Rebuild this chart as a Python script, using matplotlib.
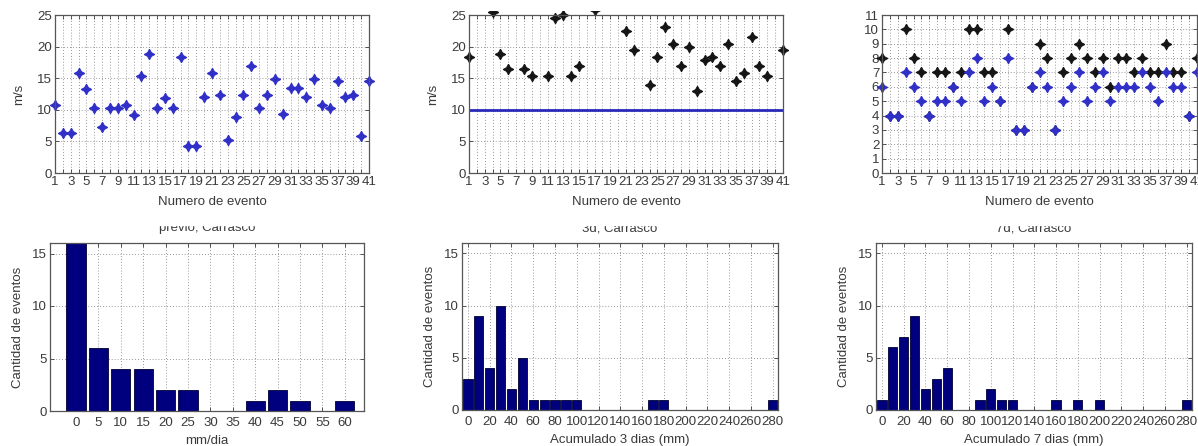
import matplotlib
matplotlib.use("Agg")
import matplotlib.pyplot as plt
from matplotlib.patches import Rectangle
from matplotlib.transforms import Bbox, TransformedBbox

plt.rcParams['font.family'] = ['Liberation Sans', 'DejaVu Sans']
plt.rcParams['font.size'] = 9.5
plt.rcParams['text.color'] = '#3a3a3a'
plt.rcParams['xtick.color'] = '#3a3a3a'
plt.rcParams['ytick.color'] = '#3a3a3a'
plt.rcParams['axes.labelcolor'] = '#3a3a3a'

# datos por evento
eventos = list(range(1, 42))
viento_prev = [10.7, 6.3, 6.3, 15.9, 13.3, 10.3, 7.3, 10.3, 10.3, 10.7, 9.2, 15.4, 18.8, 10.3,
               11.9, 10.3, 18.3, 4.3, 4.3, 12.0, 15.9, 12.4, 5.3, 8.8, 12.4, 16.9, 10.3, 12.4,
               14.9, 9.3, 13.4, 13.4, 12.0, 14.9, 10.8, 10.3, 14.5, 12.0, 12.4, 5.8, 14.5]
viento_max = [18.4, 27.0, 28.0, 25.5, 18.8, 16.4, 27.5, 16.4, 15.4, 28.5, 15.4, 24.5, 25.0, 15.4,
              16.9, 27.0, 25.8, 28.0, 27.5, 29.0, 22.5, 19.5, 27.0, 13.9, 18.4, 23.1, 20.4, 16.9,
              20.0, 13.0, 17.9, 18.4, 16.9, 20.4, 14.5, 15.9, 21.5, 16.9, 15.4, 28.0, 19.5]
umbral = 10
esc_max = [8, 4, 4, 10, 8, 7, 4, 7, 7, 6, 7, 10, 10, 7, 7, 5, 10, 3, 3, 6, 9, 8, 3, 7, 8, 9, 8,
           7, 8, 6, 8, 8, 7, 8, 7, 7, 9, 7, 7, 4, 8]
esc_media = [6, 4, 4, 7, 6, 5, 4, 5, 5, 6, 5, 7, 8, 5, 6, 5, 8, 3, 3, 6, 7, 6, 3, 5, 6, 7, 5,
             6, 7, 5, 6, 6, 6, 7, 6, 5, 7, 6, 6, 4, 7]

# histogramas de lluvia
bins_prev = [0, 5, 10, 15, 20, 25, 30, 35, 40, 45, 50, 55, 60]
cant_prev = [18, 6, 4, 4, 2, 2, 0, 0, 1, 2, 1, 0, 1]
bins_acum = list(range(0, 290, 10))
cant_3d = [3, 9, 4, 10, 2, 5, 1, 1, 1, 1, 1, 0, 0, 0, 0, 0, 0, 1, 1, 0, 0, 0, 0, 0, 0, 0, 0, 0, 1]
cant_7d = [1, 6, 7, 9, 2, 3, 4, 0, 0, 1, 2, 1, 1, 0, 0, 0, 1, 0, 1, 0, 1, 0, 0, 0, 0, 0, 0, 0, 1]

W, H = 1198, 446
fig = plt.figure(figsize=(W / 100, H / 100), dpi=100)


def ejes(l, r, t, b):
    ax = fig.add_axes([l / W, 1 - b / H, (r - l) / W, (b - t) / H])
    ax.tick_params(direction='in', top=True, right=True, length=3, width=0.6, pad=2)
    for s in ax.spines.values():
        s.set_color('#555555')
        s.set_linewidth(0.9)
    ax.grid(True, linestyle=(0, (1, 2.5)), color='#777777', linewidth=0.6)
    ax.set_axisbelow(True)
    return ax


def puntos(ax, x, y, color):
    ln, = ax.plot(x, y, linestyle='none', marker=(4, 1, 0), markersize=7.5, color=color,
                  markeredgewidth=0.8)
    # como en matlab: el marcador no se corta si el centro esta dentro
    ln.set_clip_box(TransformedBbox(Bbox([[-0.02, -0.03], [1.02, 1.025]]), ax.transAxes))


def eje_eventos(ax):
    ax.set_xlim(1, 41)
    ax.set_xticks(eventos)
    ax.set_xticklabels([str(e) if e % 2 == 1 else '' for e in eventos])
    ax.set_xlabel('Numero de evento', labelpad=6)


azul = '#3030c8'

ax1 = ejes(55, 369, 15, 173)
puntos(ax1, eventos, viento_prev, azul)
eje_eventos(ax1)
ax1.set_ylim(0, 25)
ax1.set_yticks([0, 5, 10, 15, 20, 25])
ax1.set_ylabel('m/s', labelpad=9)

ax2 = ejes(469, 783, 15, 173)
ax2.axhline(umbral, color='#2828b8', linewidth=2)
puntos(ax2, eventos, viento_max, '#151515')
eje_eventos(ax2)
ax2.set_ylim(0, 25)
ax2.set_yticks([0, 5, 10, 15, 20, 25])
ax2.set_ylabel('m/s', labelpad=9)

ax3 = ejes(882, 1197, 15, 173)
puntos(ax3, eventos, esc_max, '#151515')
puntos(ax3, eventos, esc_media, azul)
eje_eventos(ax3)
ax3.set_ylim(0, 11)
ax3.set_yticks(range(0, 12))

barra = '#00007f'


def histo(ax, bins, cant, ancho, xlim, ticks, xlabel, titulo):
    ax.bar(bins, cant, width=ancho, color=barra, edgecolor='#000030', linewidth=0.6)
    ax.set_xlim(*xlim)
    ax.set_xticks(ticks)
    ax.set_ylim(0, 16)
    ax.set_yticks([0, 5, 10, 15])
    ax.tick_params(axis='x', pad=4)
    ax.set_xlabel(xlabel, labelpad=5)
    ax.set_ylabel('Cantidad de eventos', labelpad=6)
    ax.set_title(titulo, fontsize=9.5, pad=8.5)


ax4 = ejes(50, 364, 243, 411)
histo(ax4, bins_prev, cant_prev, 4.3, (-5.8, 64.3), bins_prev, 'mm/dia', 'previo, Carrasco')

ax5 = ejes(462, 778, 243, 410)
histo(ax5, bins_acum, cant_3d, 8.5, (-5.5, 285), range(0, 290, 20),
      'Acumulado 3 dias (mm)', '3d, Carrasco')

ax6 = ejes(876, 1192, 243, 410)
histo(ax6, bins_acum, cant_7d, 8.5, (-5.5, 285), range(0, 290, 20),
      'Acumulado 7 dias (mm)', '7d, Carrasco')

# la imagen original tapa la mitad superior de los titulos
fig.add_artist(Rectangle((0, 1 - 225 / H), 1, 16 / H, transform=fig.transFigure,
                         color='white', zorder=20))

fig.savefig('out.png', dpi=100)
